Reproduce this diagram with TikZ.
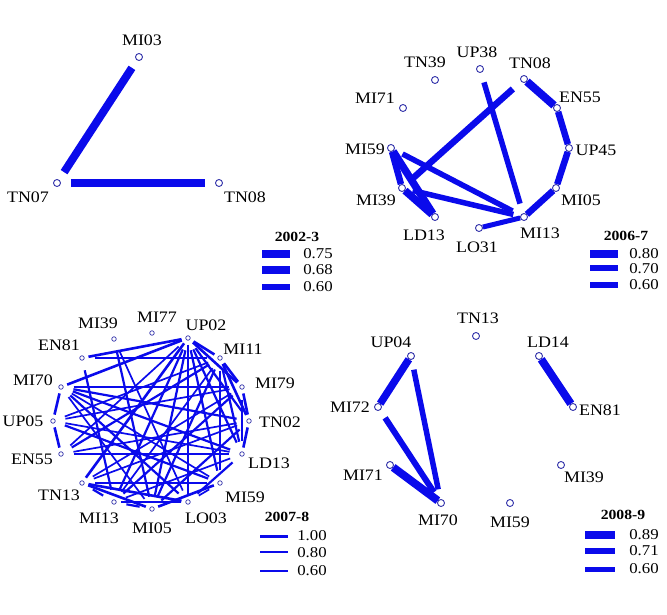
\documentclass[tikz,border=0pt]{standalone}
\usepackage{fontspec}
\setmainfont{Liberation Serif}[FakeStretch=1.12]
\usepackage{tikz}

\definecolor{edgeblue}{RGB}{10,10,235}
\definecolor{ringnavy}{RGB}{50,50,170}

\tikzset{
  pt/.style={circle, draw=ringnavy, fill=white, line width=0.9pt, inner sep=0pt, minimum size=7pt},
  spt/.style={pt, minimum size=4.5pt, line width=0.7pt},
  lab/.style={inner sep=0pt, font=\fontsize{16}{16}\selectfont},
  num/.style={inner sep=0pt, font=\fontsize{15}{13}\selectfont},
  ttl/.style={inner sep=0pt, font=\bfseries\fontsize{14}{14}\selectfont},
  tie/.style={draw=edgeblue, line width=#1},
  gap/.style={shorten <=#1, shorten >=#1},
  gap/.default=9pt,
}

\begin{document}
\begin{tikzpicture}[x=1pt, y=-1pt]
      \useasboundingbox (0,0) rectangle (667,615);

      % 2002-3
      \node[pt] (a-mi03) at (139,57){};
      \node[pt] (a-tn07) at (57,183){};
      \node[pt] (a-tn08) at (219,183){};
      \node[lab] (a-mi03-l) at (142,40){MI03};
      \node[lab] (a-tn07-l) at (28,197){TN07};
      \node[lab] (a-tn08-l) at (245,197){TN08};

      \draw[tie=8pt, gap=9pt] (a-mi03) -- (a-tn07);
      \draw[tie=8pt, gap=10pt] (a-tn07) -- (a-tn08);

      \node[ttl] (a-key) at (297,237){2002-3};
      \draw[tie=8pt] (262,254) -- (290,254);
      \draw[tie=7.3pt] (262,270) -- (290,270);
      \draw[tie=6.5pt] (262,287) -- (290,287);
      \node[num] (a-k1) at (318,254){0.75};
      \node[num] (a-k2) at (318,270){0.68};
      \node[num] (a-k3) at (318,287){0.60};

      % 2006-7
      \node[pt] (b-up38) at (480,69){};
      \node[pt] (b-tn39) at (435,80){};
      \node[pt] (b-tn08) at (524,79){};
      \node[pt] (b-mi71) at (403,108){};
      \node[pt] (b-en55) at (557,108){};
      \node[pt] (b-mi59) at (391,148){};
      \node[pt] (b-up45) at (569,148){};
      \node[pt] (b-mi39) at (402,188){};
      \node[pt] (b-mi05) at (556,188){};
      \node[pt] (b-ld13) at (435,217){};
      \node[pt] (b-mi13) at (524,217){};
      \node[pt] (b-lo31) at (479,228){};
      \node[lab] (b-up38-l) at (477,52){UP38};
      \node[lab] (b-tn39-l) at (425,62){TN39};
      \node[lab] (b-tn08-l) at (530,63){TN08};
      \node[lab] (b-mi71-l) at (375,98){MI71};
      \node[lab] (b-en55-l) at (580,97){EN55};
      \node[lab] (b-mi59-l) at (365,149){MI59};
      \node[lab] (b-up45-l) at (596,150){UP45};
      \node[lab] (b-mi39-l) at (376,200){MI39};
      \node[lab] (b-mi05-l) at (581,200){MI05};
      \node[lab] (b-ld13-l) at (424,235){LD13};
      \node[lab] (b-mi13-l) at (540,233){MI13};
      \node[lab] (b-lo31-l) at (477,247){LO31};

      \draw[tie=8pt] (b-tn08) -- (b-en55);
      \draw[tie=6.5pt] (b-en55) -- (b-up45);
      \draw[tie=6.5pt] (b-up45) -- (b-mi05);
      \draw[tie=6.5pt] (b-mi05) -- (b-mi13);
      \draw[tie=6.5pt] (b-mi59) -- (b-mi39);
      \draw[tie=7.5pt] (b-mi59) -- (b-ld13);
      \draw[tie=7.5pt] (b-mi39) -- (b-ld13);
      \draw[tie=5pt] (b-lo31) -- (b-mi13);
      \draw[tie=6.5pt, gap=11pt] (b-tn08) -- (b-mi39);
      \draw[tie=5.5pt, gap=10pt] (b-up38) -- (b-mi13);
      \draw[tie=5.5pt, gap=9pt] (b-mi59) -- (b-mi13);
      \draw[tie=5.5pt, gap=7pt] (b-mi39) -- (b-mi13);

      \node[ttl] (b-key) at (626,236){2006-7};
      \draw[tie=8.3pt] (590,254) -- (618,254);
      \draw[tie=6.7pt] (590,268) -- (618,268);
      \draw[tie=5.7pt] (590,285) -- (618,285);
      \node[num] (b-k1) at (644,254){0.80};
      \node[num] (b-k2) at (644,269){0.70};
      \node[num] (b-k3) at (644,285){0.60};

      % 2007-8
      \node[spt] (c-mi77) at (152,333){};
      \node[spt] (c-up02) at (188,338){};
      \node[spt] (c-mi39) at (114,339){};
      \node[spt] (c-en81) at (82,358){};
      \node[spt] (c-mi11) at (220,358){};
      \node[spt] (c-mi70) at (61,387){};
      \node[spt] (c-mi79) at (242,387){};
      \node[spt] (c-up05) at (53,421){};
      \node[spt] (c-tn02) at (249,421){};
      \node[spt] (c-en55) at (61,454){};
      \node[spt] (c-ld13) at (242,454){};
      \node[spt] (c-tn13) at (82,483){};
      \node[spt] (c-mi59) at (220,483){};
      \node[spt] (c-mi13) at (114,502){};
      \node[spt] (c-lo03) at (188,502){};
      \node[spt] (c-mi05) at (152,509){};
      \node[lab] (c-mi77-l) at (157,317){MI77};
      \node[lab] (c-up02-l) at (206,325){UP02};
      \node[lab] (c-mi39-l) at (98,323){MI39};
      \node[lab] (c-en81-l) at (59,345){EN81};
      \node[lab] (c-mi11-l) at (243,349){MI11};
      \node[lab] (c-mi70-l) at (33,380){MI70};
      \node[lab] (c-mi79-l) at (275,383){MI79};
      \node[lab] (c-up05-l) at (23,421){UP05};
      \node[lab] (c-tn02-l) at (280,422){TN02};
      \node[lab] (c-en55-l) at (32,459){EN55};
      \node[lab] (c-ld13-l) at (269,463){LD13};
      \node[lab] (c-tn13-l) at (59,495){TN13};
      \node[lab] (c-mi59-l) at (245,497){MI59};
      \node[lab] (c-mi13-l) at (99,518){MI13};
      \node[lab] (c-lo03-l) at (206,518){LO03};
      \node[lab] (c-mi05-l) at (152,528){MI05};

      \foreach \p/\q in {mi70/up05, up05/en55, up02/mi11, up02/mi79, mi11/mi79,
          mi79/tn02, mi11/tn02, tn02/ld13, up02/lo03, mi59/mi05, lo03/mi13,
          mi05/tn13, tn13/lo03, up02/tn13, en81/up02, mi70/up02}
        \draw[tie=2.6pt, gap=4pt] (c-\p) -- (c-\q);
      \foreach \p/\q in {en81/mi11, mi70/mi79, en55/ld13, en81/mi13, mi39/mi05,
          up02/tn02, up02/ld13, up02/mi59, up02/mi05, up02/mi13, mi11/ld13,
          mi11/mi59, mi11/mi05, mi11/en55, mi79/ld13, mi79/mi13, tn02/mi70,
          tn02/mi05, ld13/mi70, ld13/lo03, mi59/up05, mi59/tn13, mi05/mi13,
          mi13/tn13, lo03/mi70}
        \draw[tie=2.2pt, gap=10pt] (c-\p) -- (c-\q);
      \foreach \p/\q in {mi39/lo03, up02/en55, mi11/mi13, mi11/up05, mi79/tn13,
          mi79/up05, tn02/en55, tn02/tn13, ld13/mi13, mi59/mi70, mi59/lo03,
          mi05/mi70, ld13/up05}
        \draw[tie=1.7pt, gap=10pt] (c-\p) -- (c-\q);

      \node[ttl] (c-key) at (287,517){2007-8};
      \draw[tie=3pt] (260,536) -- (288,536);
      \draw[tie=2.3pt] (260,552) -- (288,552);
      \draw[tie=1.5pt] (260,571) -- (288,571);
      \node[num] (c-k1) at (312,536){1.00};
      \node[num] (c-k2) at (312,553){0.80};
      \node[num] (c-k3) at (312,571){0.60};

      % 2008-9
      \node[pt] (d-tn13) at (476,336){};
      \node[pt] (d-up04) at (411,356){};
      \node[pt] (d-ld14) at (539,356){};
      \node[pt] (d-mi72) at (378,407){};
      \node[pt] (d-en81) at (573,407){};
      \node[pt] (d-mi71) at (390,465){};
      \node[pt] (d-mi39) at (561,465){};
      \node[pt] (d-mi70) at (441,503){};
      \node[pt] (d-mi59) at (510,503){};
      \node[lab] (d-tn13-l) at (478,318){TN13};
      \node[lab] (d-up04-l) at (391,342){UP04};
      \node[lab] (d-ld14-l) at (548,342){LD14};
      \node[lab] (d-mi72-l) at (350,407){MI72};
      \node[lab] (d-en81-l) at (600,410){EN81};
      \node[lab] (d-mi71-l) at (363,475){MI71};
      \node[lab] (d-mi39-l) at (584,477){MI39};
      \node[lab] (d-mi70-l) at (438,520){MI70};
      \node[lab] (d-mi59-l) at (510,522){MI59};

      \draw[tie=7.5pt] (d-up04) -- (d-mi72);
      \draw[tie=8pt] (d-ld14) -- (d-en81);
      \draw[tie=8pt] (d-mi71) -- (d-mi70);
      \draw[tie=6pt, gap=9pt] (d-mi72) -- (d-mi70);
      \draw[tie=5.5pt, gap=10pt] (d-up04) -- (d-mi70);

      \node[ttl] (d-key) at (623,515){2008-9};
      \draw[tie=7.7pt] (585,535) -- (615,535);
      \draw[tie=6pt] (585,551) -- (615,551);
      \draw[tie=5pt] (585,569) -- (615,569);
      \node[num] (d-k1) at (644,535){0.89};
      \node[num] (d-k2) at (644,551){0.71};
      \node[num] (d-k3) at (644,569){0.60};
\end{tikzpicture}
\end{document}
